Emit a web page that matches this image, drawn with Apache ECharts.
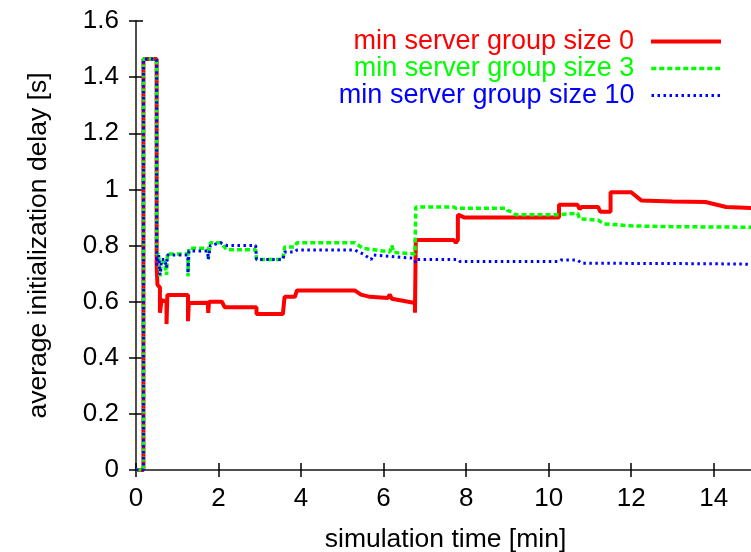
<!DOCTYPE html>
<html>
<head>
<meta charset="utf-8">
<script src="https://cdn.jsdelivr.net/npm/echarts@6/dist/echarts.min.js"></script>
<style>
html,body{margin:0;padding:0;background:#fff;}
#chart{width:751px;height:552px;}
</style>
</head>
<body>
<div id="chart"></div>
<script>
var seriesNames = ['min server group size 0', 'min server group size 3', 'min server group size 10'];
var seriesColors = ['#ff0000', '#00ff00', '#0000ff'];

var size0 = [
  [0,0],[0.18,0],[0.18,1.465],[0.5,1.465],[0.5,0.73],[0.52,0.66],[0.58,0.65],[0.58,0.56],[0.62,0.605],
  [0.74,0.60],[0.74,0.52],[0.76,0.624],[1.26,0.624],[1.26,0.53],[1.28,0.595],[1.74,0.596],[1.75,0.56],
  [1.77,0.60],[2.08,0.60],[2.15,0.58],[2.92,0.58],[2.92,0.556],[3.56,0.556],[3.6,0.617],[3.85,0.617],
  [3.9,0.64],[5.3,0.64],[5.45,0.625],[5.67,0.617],[6.1,0.613],[6.15,0.625],[6.2,0.61],[6.76,0.595],
  [6.76,0.56],[6.78,0.82],[7.7,0.82],[7.75,0.81],[7.8,0.82],[7.8,0.91],[7.95,0.90],[10.25,0.90],
  [10.25,0.945],[10.7,0.945],[10.75,0.93],[10.8,0.937],[11.2,0.937],[11.25,0.92],[11.5,0.92],
  [11.5,0.99],[12.0,0.99],[12.25,0.96],[13.0,0.957],[13.8,0.955],[14.3,0.937],[15,0.933]
];

var size3 = [
  [0,0],[0.18,0],[0.18,1.465],[0.5,1.465],[0.5,0.77],[0.55,0.77],[0.58,0.69],[0.62,0.74],[0.7,0.74],
  [0.74,0.695],[0.76,0.77],[1.26,0.77],[1.26,0.69],[1.28,0.79],[1.74,0.79],[1.75,0.755],[1.8,0.81],
  [2.05,0.81],[2.2,0.785],[2.9,0.785],[2.92,0.75],[3.56,0.75],[3.6,0.795],[3.85,0.795],[3.9,0.81],
  [5.3,0.81],[5.5,0.79],[6.15,0.777],[6.2,0.80],[6.25,0.775],[6.76,0.77],[6.78,0.937],[7.7,0.937],
  [7.75,0.933],[8.97,0.933],[9.0,0.925],[9.1,0.92],[9.2,0.91],[10.25,0.91],[10.25,0.915],[10.7,0.915],
  [10.75,0.895],[11.2,0.89],[11.35,0.877],[12.0,0.87],[13.0,0.867],[15,0.865]
];

var size10 = [
  [0,0],[0.18,0],[0.18,1.465],[0.5,1.465],[0.5,0.73],[0.55,0.766],[0.58,0.695],[0.62,0.75],[0.7,0.75],
  [0.74,0.72],[0.76,0.766],[1.26,0.766],[1.26,0.70],[1.28,0.78],[1.74,0.78],[1.75,0.75],[1.8,0.80],
  [2.05,0.81],[2.2,0.80],[2.9,0.80],[2.92,0.75],[3.56,0.75],[3.6,0.777],[3.85,0.777],[3.9,0.784],
  [5.3,0.784],[5.5,0.77],[5.7,0.75],[5.75,0.766],[6.7,0.755],[6.78,0.74],[6.8,0.75],[7.8,0.75],
  [7.85,0.743],[10.25,0.743],[10.3,0.748],[10.7,0.748],[10.8,0.737],[14,0.735],[15,0.733]
];

var xTicks = [0, 15, 2];
var yTicks = [0, 1.6, 0.2];

var font = 'Liberation Sans, Arial, sans-serif';
var fs = 26;
var axisColor = '#444';
var lineWidths = [4, 3.5, 3];

function makeLegend(i, top) {
  return {
    data: [{ name: seriesNames[i], textStyle: { color: seriesColors[i] } }],
    right: 28, top: top, padding: 0,
    itemWidth: 70, itemHeight: 14,
    itemStyle: { opacity: 0 },
    lineStyle: { width: lineWidths[i] },
    textStyle: { fontFamily: font, fontSize: 27, padding: [0, 12, 0, 0] },
    align: 'right', selectedMode: false
  };
}

var option = {
  animation: false,
  backgroundColor: '#fff',
  textStyle: { fontFamily: font },
  grid: { left: 136, top: 21, right: -4, bottom: 82, containLabel: false, outerBoundsMode: 'none' },
  legend: [makeLegend(0, 28), makeLegend(1, 55), makeLegend(2, 82)],
  xAxis: [
    {
      type: 'value', min: xTicks[0], max: xTicks[1], interval: xTicks[2], position: 'bottom',
      name: 'simulation time [min]', nameLocation: 'middle', nameGap: 56,
      nameTextStyle: { fontFamily: font, fontSize: 26.5, color: '#000' },
      axisLine: { lineStyle: { color: axisColor, width: 1.5 } },
      axisTick: { inside: true, length: 7, lineStyle: { color: '#000', width: 1.5 } },
      axisLabel: { fontFamily: font, fontSize: fs, color: '#000', margin: 16, showMaxLabel: false,
        formatter: function (v) { return v === 15 ? '' : String(v); } },
      splitLine: { show: false }
    },
    {
      type: 'value', min: xTicks[0], max: xTicks[1], interval: xTicks[2], position: 'top',
      axisLine: { lineStyle: { color: axisColor, width: 1.5 } },
      axisTick: { inside: true, length: 7, lineStyle: { color: '#000', width: 1.5 } },
      axisLabel: { show: false }, splitLine: { show: false }
    }
  ],
  yAxis: [
    {
      type: 'value', min: yTicks[0], max: yTicks[1], interval: yTicks[2], position: 'left',
      name: 'average initialization delay [s]', nameLocation: 'middle', nameGap: 84,
      nameTextStyle: { fontFamily: font, fontSize: 26.5, color: '#000' },
      axisLine: { lineStyle: { color: axisColor, width: 1.5 } },
      axisTick: { inside: true, length: 7, lineStyle: { color: '#000', width: 1.5 } },
      axisLabel: { fontFamily: font, fontSize: fs, color: '#000', margin: 17 },
      splitLine: { show: false }
    },
    {
      type: 'value', min: yTicks[0], max: yTicks[1], interval: yTicks[2], position: 'right',
      axisLine: { lineStyle: { color: axisColor, width: 1.5 } },
      axisTick: { inside: true, length: 7, lineStyle: { color: '#000', width: 1.5 } },
      axisLabel: { show: false }, splitLine: { show: false }
    }
  ],
  series: [
    { name: seriesNames[0], type: 'line', data: size0, symbol: 'none', z: 2,
      lineStyle: { color: seriesColors[0], width: lineWidths[0], type: 'solid' }, itemStyle: { color: seriesColors[0] } },
    { name: seriesNames[1], type: 'line', data: size3, symbol: 'none', z: 3,
      lineStyle: { color: seriesColors[1], width: lineWidths[1], type: [5, 3] }, itemStyle: { color: seriesColors[1] } },
    { name: seriesNames[2], type: 'line', data: size10, symbol: 'none', z: 4,
      lineStyle: { color: seriesColors[2], width: lineWidths[2], type: [2.5, 3.5] }, itemStyle: { color: seriesColors[2] } }
  ]
};

var chart = echarts.init(document.getElementById('chart'), null, { renderer: 'canvas' });
chart.setOption(option);
</script>
</body>
</html>
